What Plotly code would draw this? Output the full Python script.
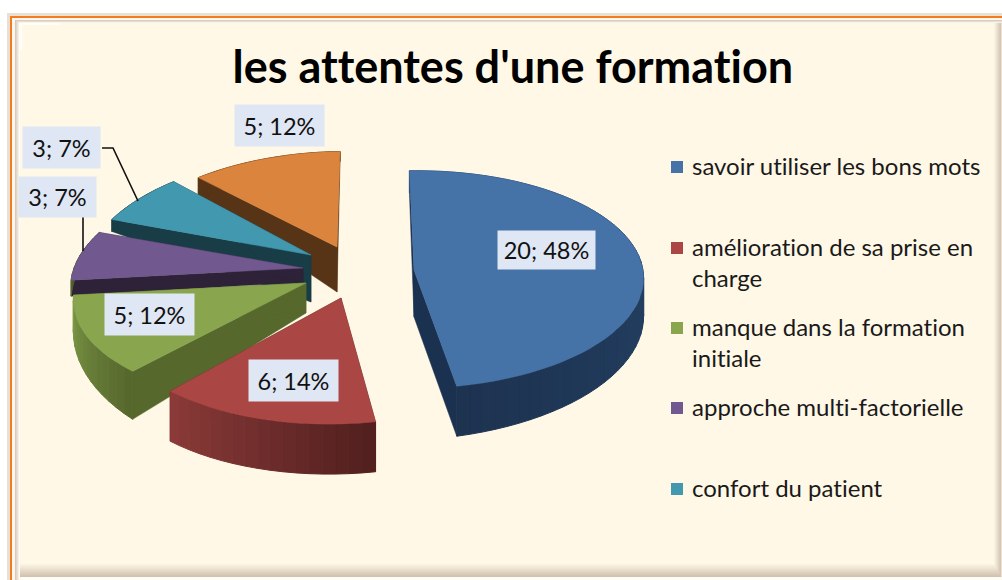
import math
import plotly.graph_objects as go

title = "les attentes d'une formation"
categories = ["savoir utiliser les bons mots", "amélioration de sa prise en<br>charge",
              "manque dans la formation<br>initiale", "approche multi-factorielle",
              "confort du patient", ""]
values = [20, 6, 5, 3, 3, 5]

# styling / geometry of the exploded, tilted pie
top_colors = ["#4572A7", "#AA4643", "#89A54E", "#71588F", "#4198AF", "#DB843D"]
cut_colors = ["#1B3150", "#5A2422", "#57682D", "#2E2239", "#193D47", "#583417"]
arc_from = ["#2B4E78", "#52201F", "#57682D", "#57682D", "#193D47", "#583417"]
arc_to = ["#1D3350", "#8A3A38", "#7C9A46", "#2E2239", "#193D47", "#583417"]
apex_x = [414, 341, 306, 303, 311, 337]
apex_y = [270, 298, 283, 268, 255, 247]
rad_x = [229, 231, 230, 229, 223, 220]
rad_y = [108, 115, 109, 110, 110, 104]
shear = [3, 11, 15, 19, 16, 11]
depth_apex = [47, 50, 30, 14, 47, 45]
depth_start = [22, 50, 48, 16, 12, 21]
depth_end = [50, 50, 30, 5, 5, 10]
label_box = [(498, 595, 231, 269), (249, 338, 360, 401), (105, 194, 294, 335),
             (19, 96, 177, 217), (23, 100, 127, 168), (235, 324, 105, 146)]
START_DEG = -2.0
K = 0.088

W, H = 1002, 580
fig = go.Figure()
shapes = []


def mix(c1, c2, t):
    a = [int(c1[i:i + 2], 16) for i in (1, 3, 5)]
    b = [int(c2[i:i + 2], 16) for i in (1, 3, 5)]
    return "#%02X%02X%02X" % tuple(round(p + (q - p) * t) for p, q in zip(a, b))


def poly(xs, ys, color, lw=1.0):
    fig.add_trace(go.Scatter(x=list(xs) + [xs[0]], y=list(ys) + [ys[0]], mode="lines", fill="toself",
                             fillcolor=color, line=dict(color=color, width=lw),
                             hoverinfo="skip", showlegend=False))


def rect(x0, y0, x1, y1, color):
    shapes.append(dict(type="rect", xref="x", yref="y", x0=x0, y0=y0, x1=x1, y1=y1,
                       fillcolor=color, line=dict(width=0), layer="below"))


# frame
CREAM = "#FFF8E6"
TAN = "#CDBDAA"
rect(7, 13, W, H, "#E9E0D4")
rect(10, 16, W, H, "#F47B20")
rect(12, 18, W, H, "#FBF6EE")
rect(15, 20, W, H, TAN)
for i in range(5):
    rect(15 + i, 20 + i * 0.7, W, H, mix(TAN, "#FFFDF6", (i + 1) / 5))
for i in range(14):
    t = (i + 1) / 14
    rect(20, 23, W - 8 * t, H - 2 - 14 * t, mix(TAN, CREAM, t))
rect(20, 23, 994, 564, CREAM)
rect(20, 23, 60, 25, "#FFFDF8")
rect(20, 23, 22, 50, "#FFFDF8")

total = sum(values)
order = [5, 4, 3, 2, 1, 0]
edges = [START_DEG]
for v in values:
    edges.append(edges[-1] + v / total * 360)


def project(i, deg):
    th = math.radians(deg)
    X, Z = math.sin(th), math.cos(th)
    s = 1 / (1 + K * Z)
    return apex_x[i] + rad_x[i] * X * s + shear[i] * Z * s, apex_y[i] - rad_y[i] * Z * s


for i in order:
    a0, a1 = edges[i], edges[i + 1]
    ax, ay = apex_x[i], apex_y[i]
    n = max(6, int((a1 - a0) / 3))
    degs = [a0 + (a1 - a0) * k / n for k in range(n + 1)]
    pts = [project(i, d) for d in degs]
    deps = [depth_start[i] + (depth_end[i] - depth_start[i]) * k / n for k in range(n + 1)]
    # cut faces
    for p, d in ((pts[0], deps[0]), (pts[-1], deps[-1])):
        poly([ax, p[0], p[0], ax], [ay, p[1], p[1] + d, ay + depth_apex[i]], cut_colors[i], 0.5)
    # outer wall
    for k in range(n):
        c = mix(arc_from[i], arc_to[i], k / max(1, n - 1))
        poly([pts[k][0], pts[k + 1][0], pts[k + 1][0], pts[k][0]],
             [pts[k][1], pts[k + 1][1], pts[k + 1][1] + deps[k + 1], pts[k][1] + deps[k]], c)
    # top
    poly([ax] + [p[0] for p in pts], [ay] + [p[1] for p in pts], top_colors[i], 0.5)

# leader lines
for xs, ys in (([102, 113, 138], [148, 148, 201]), ([83, 83], [217, 251])):
    fig.add_trace(go.Scatter(x=xs, y=ys, mode="lines", line=dict(color="#111111", width=1.6),
                             hoverinfo="skip", showlegend=False))

annotations = []
FONT = "Lato, Carlito, sans-serif"
annotations.append(dict(text="<b>%s</b>" % title, x=513, y=66, xref="x", yref="y", showarrow=False,
                        font=dict(family=FONT, size=45, color="#000000")))
for i, v in enumerate(values):
    x0, x1, y0, y1 = label_box[i]
    annotations.append(dict(text="%d; %d%%" % (v, round(v / total * 100)), x=(x0 + x1) / 2, y=(y0 + y1) / 2,
                            xref="x", yref="y", showarrow=False, width=x1 - x0, height=y1 - y0,
                            bgcolor="#DFE6F4", borderpad=0, align="center", valign="middle",
                            font=dict(family=FONT, size=23.5, color="#111111")))

legend_y = [167, 248, 328, 408, 489]
for i, c in enumerate(categories[:5]):
    fig.add_trace(go.Scatter(x=[677], y=[legend_y[i]], mode="markers", name=c.replace("<br>", " "),
                             marker=dict(symbol="square", size=12, color=top_colors[i]),
                             hoverinfo="skip", showlegend=False))
    annotations.append(dict(text=c, x=690, y=legend_y[i] - 18, xref="x", yref="y", showarrow=False,
                            xanchor="left", yanchor="top", align="left",
                            font=dict(family=FONT, size=24, color="#1A1A1A")))

fig.update_layout(width=W, height=H, margin=dict(l=0, r=0, t=0, b=0), paper_bgcolor="#FFFFFF",
                  plot_bgcolor="rgba(0,0,0,0)", showlegend=False, shapes=shapes, annotations=annotations,
                  xaxis=dict(range=[0, W], visible=False, fixedrange=True),
                  yaxis=dict(range=[H, 0], visible=False, fixedrange=True))
post = ("document.documentElement.style.overflow='hidden';document.body.style.margin='0';"
        "var s=document.createElement('style');"
        "s.textContent='text,tspan{font-variant-ligatures:none !important;font-feature-settings:\"liga\" 0,\"clig\" 0 !important;}';"
        "document.head.appendChild(s);")
fig.write_html("out.html", config=dict(displayModeBar=False), post_script=post)
